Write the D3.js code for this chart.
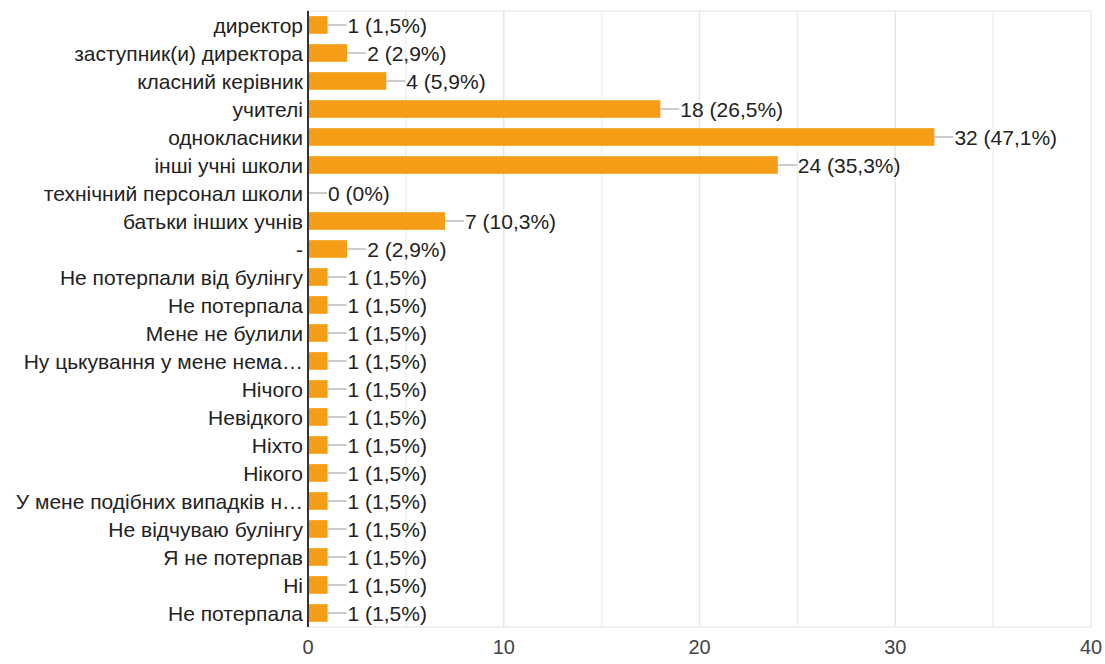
<!DOCTYPE html>
<html>
<head>
<meta charset="utf-8">
<script src="https://cdn.jsdelivr.net/npm/d3@7"></script>
<style>
  html, body { margin: 0; padding: 0; background: #fff; }
  svg { display: block; font-family: "Liberation Sans", Arial, sans-serif; }
</style>
</head>
<body>
<div id="chart"></div>
<script>
const categories = [
    'директор', 'заступник(и) директора', 'класний керівник', 'учителі',
    'однокласники', 'інші учні школи', 'технічний персонал школи',
    'батьки інших учнів', '-', 'Не потерпали від булінгу', 'Не потерпала',
    'Мене не булили', 'Ну цькування у мене нема…', 'Нічого', 'Невідкого',
    'Ніхто', 'Нікого', 'У мене подібних випадків н…', 'Не відчуваю булінгу',
    'Я не потерпав', 'Ні', 'Не потерпала'
];
const counts = [1, 2, 4, 18, 32, 24, 0, 7, 2, 1, 1, 1, 1, 1, 1, 1, 1, 1, 1, 1, 1, 1];
const percents = ['1,5%', '2,9%', '5,9%', '26,5%', '47,1%', '35,3%', '0%', '10,3%', '2,9%',
    '1,5%', '1,5%', '1,5%', '1,5%', '1,5%', '1,5%', '1,5%', '1,5%', '1,5%', '1,5%', '1,5%', '1,5%', '1,5%'];
const xTicks = [0, 10, 20, 30, 40];
const gridTicks = [5, 10, 15, 20, 25, 30, 35];

const width = 1105, height = 664;
const margin = { top: 11, right: 14, bottom: 37, left: 308 };
const innerW = width - margin.left - margin.right;
const innerH = height - margin.top - margin.bottom;

const rows = categories.map((c, i) => ({ key: i, label: c, count: counts[i], pct: percents[i] }));

const svg = d3.select('#chart').append('svg')
    .attr('width', width)
    .attr('height', height);

const g = svg.append('g')
    .attr('transform', `translate(${margin.left},${margin.top})`);

const x = d3.scaleLinear().domain([0, 40]).range([0, innerW]);
const y = d3.scaleBand().domain(rows.map(d => d.key)).range([0, innerH]).paddingInner(0.37).paddingOuter(0.185);

// gridlines
g.selectAll('.grid')
    .data(gridTicks)
    .join('line')
    .attr('x1', d => x(d)).attr('x2', d => x(d))
    .attr('y1', 0).attr('y2', innerH)
    .attr('stroke', d => d % 10 === 0 ? '#e6e6e6' : '#efefef')
    .attr('stroke-width', 1.5);

// frame
g.append('rect')
    .attr('x', 0).attr('y', 0)
    .attr('width', innerW).attr('height', innerH)
    .attr('fill', 'none')
    .attr('stroke', '#ebebeb')
    .attr('stroke-width', 1.5);

// bars
g.selectAll('.bar')
    .data(rows)
    .join('rect')
    .attr('x', 0)
    .attr('y', d => y(d.key))
    .attr('width', d => x(d.count))
    .attr('height', y.bandwidth())
    .attr('fill', '#f59d16');

// leader lines
g.selectAll('.leader')
    .data(rows)
    .join('line')
    .attr('x1', d => x(d.count))
    .attr('x2', d => x(d.count) + 19)
    .attr('y1', d => y(d.key) + y.bandwidth() / 2)
    .attr('y2', d => y(d.key) + y.bandwidth() / 2)
    .attr('stroke', '#999')
    .attr('stroke-width', 1);

// value labels
g.selectAll('.val')
    .data(rows)
    .join('text')
    .attr('x', d => x(d.count) + 20)
    .attr('y', d => y(d.key) + y.bandwidth() / 2)
    .attr('dy', '0.36em')
    .attr('font-size', 21)
    .attr('fill', '#222')
    .text(d => `${d.count} (${d.pct})`);

// category labels
g.selectAll('.cat')
    .data(rows)
    .join('text')
    .attr('x', -5)
    .attr('y', d => y(d.key) + y.bandwidth() / 2)
    .attr('dy', '0.36em')
    .attr('text-anchor', 'end')
    .attr('font-size', 21)
    .attr('fill', '#222')
    .text(d => d.label);

// zero axis
g.append('line')
    .attr('x1', 0).attr('x2', 0)
    .attr('y1', 0).attr('y2', innerH)
    .attr('stroke', '#333')
    .attr('stroke-width', 2);

// x tick labels
g.selectAll('.xt')
    .data(xTicks)
    .join('text')
    .attr('x', d => x(d))
    .attr('y', innerH + 27)
    .attr('text-anchor', 'middle')
    .attr('font-size', 20)
    .attr('fill', '#444')
    .text(d => d);
</script>
</body>
</html>
